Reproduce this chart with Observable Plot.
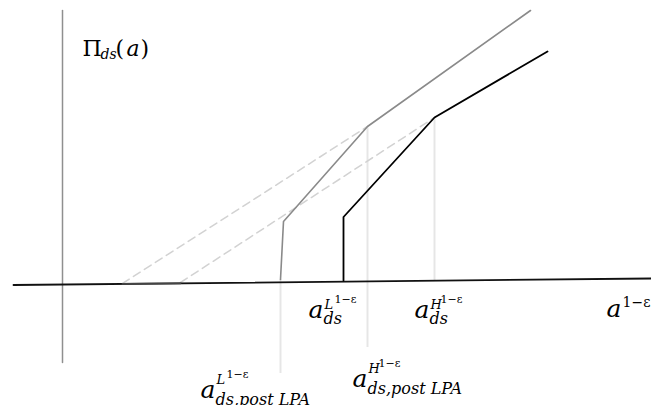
<!DOCTYPE html>
<html><head><meta charset="utf-8">
<script src="https://cdn.jsdelivr.net/npm/d3@7"></script>
<script src="https://cdn.jsdelivr.net/npm/@observablehq/plot@0.6"></script>
<style>body{margin:0;background:#fff}</style>
</head><body><div id="chart"></div>
<script>
// Schematic profit diagram: values are in diagram units (origin at axis crossing)
const hAxis = [{x: -49, y: -0.5}, {x: 589, y: 6}];
const hAxisLight = [{x: 60, y: 0.6}, {x: 118, y: 1.2}];
const vAxis = [{x: 0, y: 274}, {x: 0, y: -78}];
// Π_ds(a) after LPA (gray) and before (black)
const grayCurve = [{x: 218, y: 5}, {x: 221, y: 63}, {x: 305, y: 158}, {x: 468, y: 274}];
const blackCurve = [{x: 281, y: 4}, {x: 281, y: 67.5}, {x: 372, y: 167}, {x: 485, y: 233}];
// dashed extensions
const dashed1 = [{x: 60, y: 1}, {x: 305, y: 158}];
const dashed2 = [{x: 118, y: 2}, {x: 372, y: 167}];
// light guides
const guideX = [305, 372, 218];
const guideTop = [158, 167, 5];
const guideBottom = [-63, 4, -89];

// labels
const labelX = [246, 352, 544, 138, 290];
const labelY = [-33, -33, -32, -113, -102];
const labelSub = ["ds", "ds", "", "ds,post LPA", "ds,post LPA"];
const labelSup = ["L", "H", "", "L", "H"];
const labelExp = ["1−ε", "1−ε", "1−ε", "1−ε", "1−ε"];
const yTitle = {x: 20, y: 229, main: "Π", sub: "ds", arg: "a"};

const FONT = "DejaVu Serif";
const marks = [];
marks.push(Plot.ruleX(guideX.map((x, i) => ({x, y1: guideTop[i], y2: guideBottom[i]})),
  {x: "x", y1: "y1", y2: "y2", stroke: "#e6e6e6", strokeWidth: 2}));
marks.push(Plot.line(dashed1, {x: "x", y: "y", stroke: "#d2d2d2", strokeWidth: 1.5, strokeDasharray: "8,5"}));
marks.push(Plot.line(dashed2, {x: "x", y: "y", stroke: "#d2d2d2", strokeWidth: 1.5, strokeDasharray: "8,5"}));
marks.push(Plot.line(vAxis, {x: "x", y: "y", stroke: "#8f8f8f", strokeWidth: 1.5}));
marks.push(Plot.line(hAxis, {x: "x", y: "y", stroke: "#111", strokeWidth: 1.8}));
marks.push(Plot.line(hAxisLight, {x: "x", y: "y", stroke: "#444", strokeWidth: 1.8}));
marks.push(Plot.line(grayCurve, {x: "x", y: "y", stroke: "#8a8a8a", strokeWidth: 1.6}));
marks.push(Plot.line(blackCurve, {x: "x", y: "y", stroke: "#000", strokeWidth: 1.8}));

function piece(d, text, dx, dy, size, italic) {
  marks.push(Plot.text([d], {x: "x", y: "y", text: () => text, dx, dy, fontSize: size,
    fontStyle: italic ? "italic" : "normal", textAnchor: "start", fill: "#000", fontFamily: FONT}));
}
// Y title Π_ds(a)
piece(yTitle, yTitle.main, 0, 0, 22, false);
piece(yTitle, yTitle.sub, 18, 3, 14, true);
piece(yTitle, "(", 33, 0, 22, false);
piece(yTitle, yTitle.arg, 44, 0, 22, true);
piece(yTitle, ")", 58, 0, 22, false);

labelX.forEach((x, i) => {
  const d = {x, y: labelY[i]};
  const post = labelSub[i].length > 3;
  piece(d, "a", 0, 0, 25, true);
  if (labelSub[i]) piece(d, labelSub[i], 15, post ? 7 : 6, 16, true);
  if (labelSup[i]) {
    piece(d, labelSup[i], 16, post ? -14 : -9, 13, true);
    piece(d, labelExp[i], 26, post ? -20 : -15, 11, false);
  } else {
    piece(d, labelExp[i], 16, -10, 14, false);
  }
});

const chart = Plot.plot({
  width: 651, height: 405, margin: 0,
  x: {domain: [-62, 589], axis: null},
  y: {domain: [-121, 284], axis: null},
  style: {background: "#fff", fontFamily: FONT},
  marks
});
chart.querySelectorAll("text, tspan").forEach(t => {
  t.removeAttribute("dy");
  const yv = t.getAttribute("y");
  if (yv && /em$/.test(yv)) t.removeAttribute("y");
});
document.getElementById("chart").append(chart);
</script>
</body></html>
